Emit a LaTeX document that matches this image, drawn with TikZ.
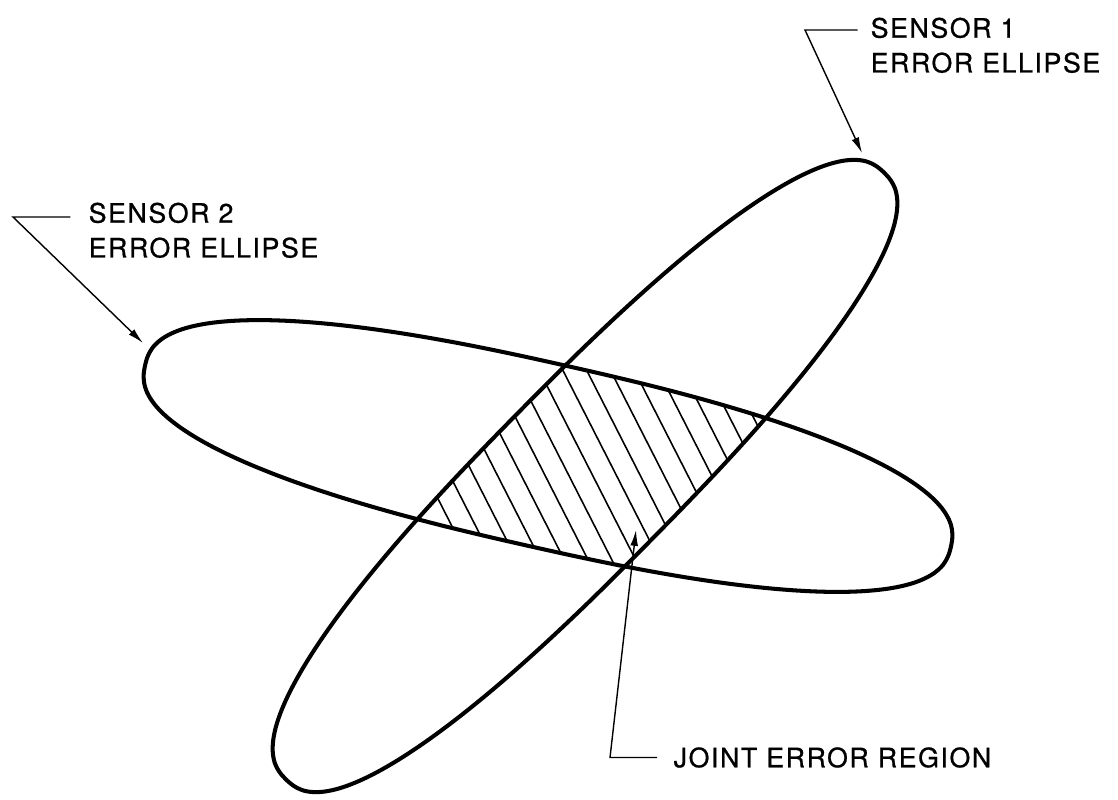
\documentclass[tikz,border=0pt]{standalone}
\usepackage{fontspec}
\usepackage{tikz}
\usetikzlibrary{arrows.meta}
\newfontfamily\lblfont[LetterSpace=6, FakeBold=0.8]{TeX Gyre Heros}
% blunt error ellipse: centre x, centre y, angle, half length, half width
\newcommand{\errorshape}[5]{plot[domain=0.5:357.5, samples=120, smooth cycle, variable=\t]
	({#1 + #4*sign(cos(\t))*abs(cos(\t))^0.82*cos(#3) - #5*sign(sin(\t))*abs(sin(\t))^0.82*sin(#3)},
	 {#2 + #4*sign(cos(\t))*abs(cos(\t))^0.82*sin(#3) + #5*sign(sin(\t))*abs(sin(\t))^0.82*cos(#3)})}

\begin{document}
\begin{tikzpicture}[
		outline/.style={line width=1.15pt},
		hatch/.style={line width=0.45pt},
		leader/.style={line width=0.4pt},
		pointer/.style={leader, -{Latex[length=4.5pt, width=2.2pt]}},
		every node/.style={font=\lblfont\fontsize{7.6}{9.9}\selectfont, inner sep=0pt}
		]
		\useasboundingbox (0,0) rectangle (11.18,7.99);
		% hatching of the overlap
		\begin{scope}
			\clip \errorshape{5.85}{3.23}{45.4}{4.26}{0.92};
			\clip \errorshape{5.48}{3.43}{-12.7}{4.13}{0.92};
			\foreach \k in {1,...,16}
				\draw[hatch, shift={(4.25,2.79)}, rotate=27] (\k*0.212,-2.5) -- (\k*0.212,2.5);
		\end{scope}
		% the two error ellipses
		\draw[outline] \errorshape{5.85}{3.23}{45.4}{4.26}{0.92};
		\draw[outline] \errorshape{5.48}{3.43}{-12.7}{4.13}{0.92};
		% labels
		\node[anchor=north west, align=left] (s1label) at (8.70,7.82) {SENSOR 1\\ERROR ELLIPSE};
		\node[anchor=north west, align=left] (s2label) at (0.88,5.97) {SENSOR 2\\ERROR ELLIPSE};
		\node[anchor=west] (jointlabel) at (6.73,0.415) {JOINT ERROR REGION};
		\coordinate (s1knee) at (8.05,7.69);
		\coordinate (s1tip) at (8.62,6.46);
		\coordinate (s2knee) at (0.13,5.82);
		\coordinate (s2tip) at (1.43,4.56);
		\coordinate (jointknee) at (6.10,0.42);
		\coordinate (jointtip) at (6.36,2.69);
		% leaders
		\draw[pointer] ([xshift=-3.5pt]s1label.west |- s1knee) -- (s1knee) -- (s1tip);
		\draw[pointer] ([xshift=-5pt]s2label.west |- s2knee) -- (s2knee) -- (s2tip);
		\draw[pointer] ([xshift=-4.5pt]jointlabel.west) -- (jointlabel.west -| jointknee) -- (jointtip);
\end{tikzpicture}
\end{document}
